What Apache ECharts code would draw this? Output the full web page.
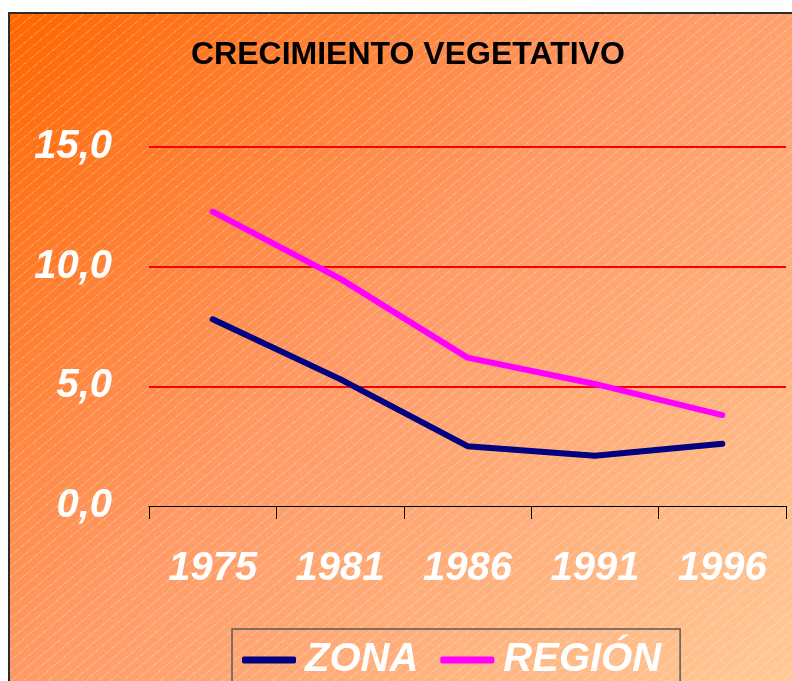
<!DOCTYPE html>
<html>
<head>
<meta charset="utf-8">
<script src="https://cdn.jsdelivr.net/npm/echarts@6/dist/echarts.min.js"></script>
<style>
  html, body { margin: 0; padding: 0; background: #fff; overflow: hidden; }
  #fondo {
    position: absolute; left: 8px; top: 12px; width: 800px; height: 700px;
    border-left: 2px solid #2b2b2b; border-top: 2px solid #2b2b2b;
    background:
      repeating-linear-gradient(140deg, rgba(255,255,255,0) 0px, rgba(255,255,255,0) 7px, rgba(255,255,255,0.22) 7px, rgba(255,255,255,0.22) 8px),
      linear-gradient(135deg, #FF6600 0%, #FF9A66 45%, #FFCC99 100%);
  }
  #main { position: absolute; left: 0; top: 0; width: 792px; height: 681px; }
</style>
</head>
<body>
<div id="fondo"></div>
<div id="main"></div>
<script>
// datos
var anios = ['1975', '1981', '1986', '1991', '1996'];
var zona = [7.8, 5.3, 2.5, 2.1, 2.6];
var region = [12.3, 9.5, 6.2, 5.1, 3.8];
var etiquetasY = ['0,0', '5,0', '10,0', '15,0'];

var fuente = 'Liberation Sans, Arial, sans-serif';
var myChart = echarts.init(document.getElementById('main'));
var option = {
  backgroundColor: 'transparent',
  animation: false,
  title: {
    text: 'CRECIMIENTO VEGETATIVO',
    left: 186,
    top: 34,
    textStyle: { color: '#000', fontSize: 32, fontWeight: 'bold', fontFamily: fuente }
  },
  legend: {
    left: 232,
    top: 629,
    padding: [11, 19, 40, 10],
    borderColor: '#5a5a5a',
    borderWidth: 1.5,
    icon: 'roundRect',
    itemWidth: 54,
    itemHeight: 7,
    itemGap: 22,
    textStyle: { color: '#fff', fontSize: 40, fontWeight: 'bold', fontStyle: 'italic', fontFamily: fuente, padding: [0, 0, 0, 4] },
    data: ['ZONA', 'REGIÓN']
  },
  grid: { left: 149, right: 6, top: 147, bottom: 175, containLabel: false },
  xAxis: {
    type: 'category',
    data: anios,
    boundaryGap: true,
    axisLine: { lineStyle: { color: '#000', width: 1 } },
    axisTick: { show: true, length: 13, interval: 0, lineStyle: { color: '#000' } },
    axisLabel: {
      color: '#fff', fontSize: 40, fontWeight: 'bold', fontStyle: 'italic',
      fontFamily: fuente, margin: 43, interval: 0
    },
    splitLine: { show: false }
  },
  yAxis: {
    type: 'value',
    min: 0,
    max: 15,
    interval: 5,
    axisLine: { show: false },
    axisTick: { show: false },
    axisLabel: {
      color: '#fff', fontSize: 40, fontWeight: 'bold', fontStyle: 'italic',
      fontFamily: fuente, margin: 37, padding: [4, 0, 0, 0],
      formatter: function (v, i) { return etiquetasY[i]; }
    },
    splitLine: { lineStyle: { color: ['transparent', '#FF0000', '#FF0000', '#FF0000'], width: 2 } }
  },
  series: [
    {
      name: 'ZONA',
      type: 'line',
      data: zona,
      showSymbol: false,
      symbol: 'none',
      color: '#000080',
      lineStyle: { color: '#000080', width: 6, cap: 'round', join: 'round' }
    },
    {
      name: 'REGIÓN',
      type: 'line',
      data: region,
      showSymbol: false,
      symbol: 'none',
      color: '#FF00FF',
      lineStyle: { color: '#FF00FF', width: 6, cap: 'round', join: 'round' }
    }
  ]
};
myChart.setOption(option);
</script>
</body>
</html>
